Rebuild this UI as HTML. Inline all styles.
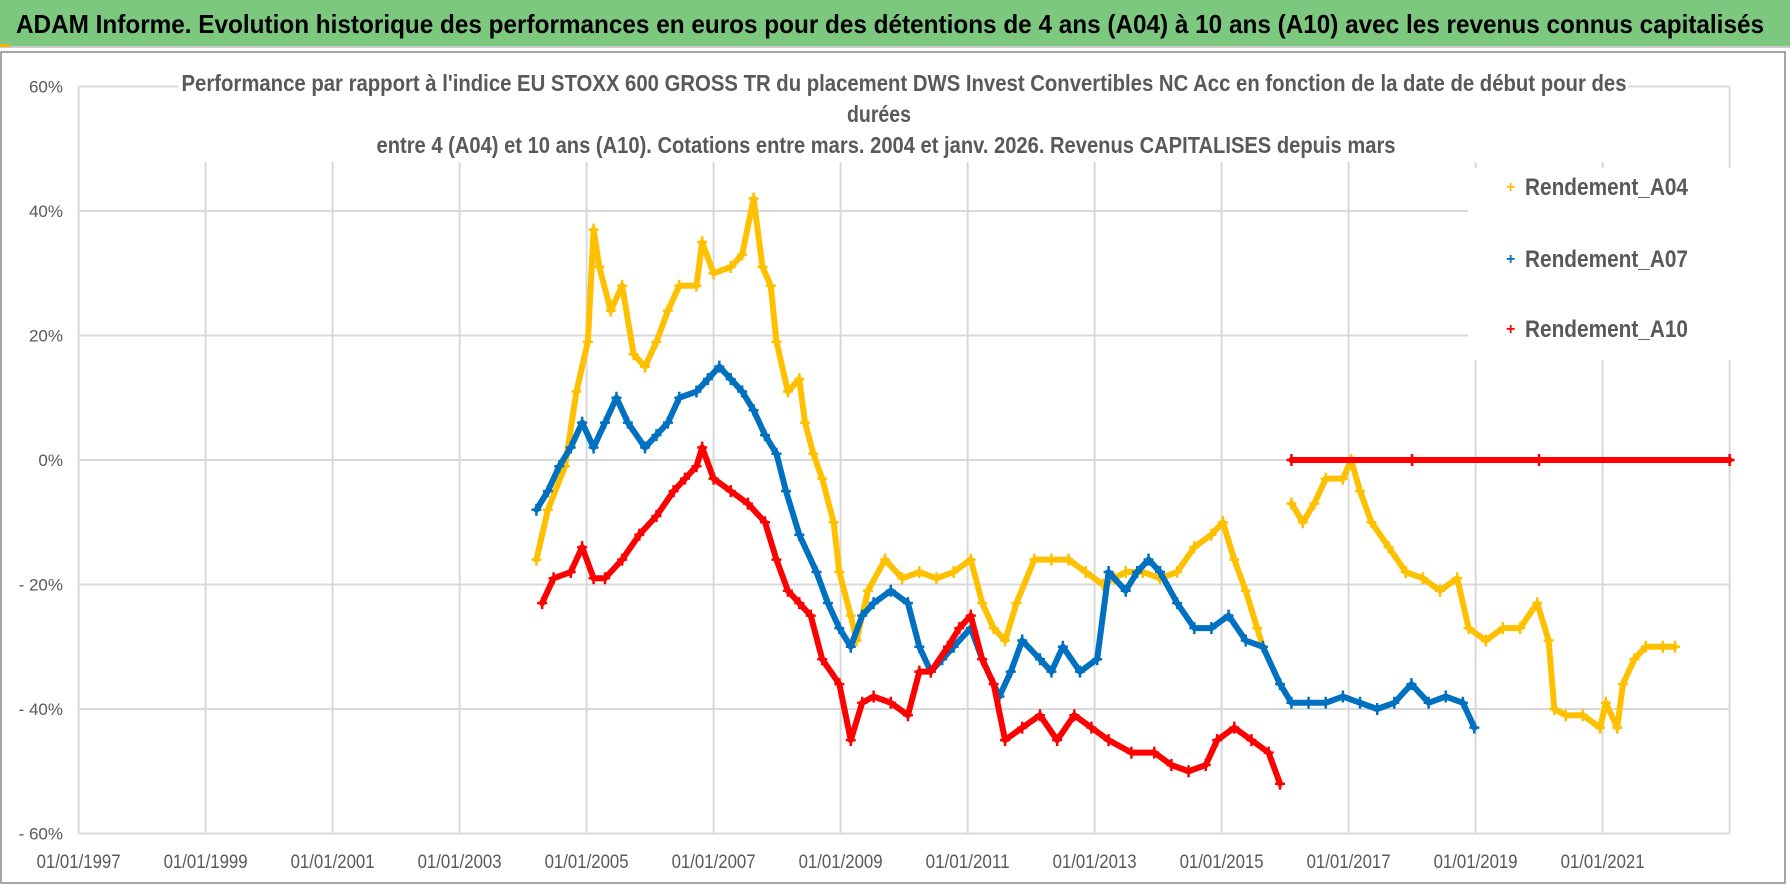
<!DOCTYPE html>
<html><head><meta charset="utf-8"><style>
html,body{margin:0;padding:0;background:#fff;}
svg{display:block;font-family:"Liberation Sans Narrow","Liberation Sans",sans-serif;}
</style></head><body>
<svg id="chart" width="1790" height="886" viewBox="0 0 1790 886" xmlns="http://www.w3.org/2000/svg">
<rect x="0" y="0" width="1790" height="886" fill="#fff"/>
<rect x="0" y="0" width="1790" height="46" fill="#7dc87f"/>
<line x1="0" y1="47" x2="1790" y2="47" stroke="#ccc" stroke-width="2"/>
<rect x="0" y="44" width="10" height="3" fill="#f0b400"/>
<text x="16" y="33" font-size="26" font-weight="bold" fill="#000" textLength="1748" lengthAdjust="spacingAndGlyphs">ADAM Informe. Evolution historique des performances en euros pour des détentions de 4 ans (A04) à 10 ans (A10) avec les revenus connus capitalisés</text>
<rect x="1" y="52" width="1784" height="831" fill="none" stroke="#888" stroke-width="1.5"/>
<g id="grid"></g>
<g id="series"></g>
<rect x="1468" y="168" width="272" height="192" fill="#fff"/>
<g font-size="23" font-weight="bold" fill="#595959" text-anchor="middle">
<rect x="178" y="70" width="1450" height="92" fill="#fff"/>
<text x="904" y="91" textLength="1445" lengthAdjust="spacingAndGlyphs">Performance par rapport à l'indice EU STOXX 600 GROSS TR  du placement DWS Invest Convertibles NC Acc en fonction de la date de début pour des</text>
<text x="879" y="122" textLength="64" lengthAdjust="spacingAndGlyphs">durées</text>
<text x="886" y="153" textLength="1019" lengthAdjust="spacingAndGlyphs">entre 4 (A04) et 10 ans (A10). Cotations entre mars. 2004 et janv. 2026. Revenus CAPITALISES depuis mars</text>
</g>
<g font-size="24" font-weight="bold" fill="#595959">
<g><text x="1506" y="192" fill="#ffc000" font-size="16">+</text><text x="1525" y="195" textLength="163" lengthAdjust="spacingAndGlyphs">Rendement_A04</text></g>
<g><text x="1506" y="264" fill="#0070c0" font-size="16">+</text><text x="1525" y="267" textLength="163" lengthAdjust="spacingAndGlyphs">Rendement_A07</text></g>
<g><text x="1506" y="334" fill="#ff0000" font-size="16">+</text><text x="1525" y="337" textLength="163" lengthAdjust="spacingAndGlyphs">Rendement_A10</text></g>
</g>
</svg>
<script>
const yTicks=[60,40,20,0,-20,-40,-60];
const yTickLabels=["60%","40%","20%","0%","- 20%","- 40%","- 60%"];
const xTicks=[1997,1999,2001,2003,2005,2007,2009,2011,2013,2015,2017,2019,2021,2023];
const xTickLabels=["01/01/1997","01/01/1999","01/01/2001","01/01/2003","01/01/2005","01/01/2007","01/01/2009","01/01/2011","01/01/2013","01/01/2015","01/01/2017","01/01/2019","01/01/2021",""];
const a04Dates=[2004.21,2004.39,2004.66,2004.84,2005.02,2005.11,2005.20,2005.38,2005.56,2005.74,2005.92,2006.10,2006.28,2006.46,2006.73,2006.82,2007.00,2007.27,2007.45,2007.63,2007.77,2007.90,2007.99,2008.17,2008.35,2008.44,2008.57,2008.71,2008.89,2008.98,2009.16,2009.25,2009.43,2009.70,2009.97,2010.24,2010.51,2010.78,2011.05,2011.23,2011.41,2011.59,2011.77,2012.05,2012.32,2012.59,2012.86,2013.13,2013.31,2013.49,2013.76,2014.03,2014.30,2014.57,2014.84,2015.02,2015.20,2015.38,2015.56,2015.65,
2016.10,2016.28,2016.46,2016.64,2016.91,2017.04,2017.18,2017.36,2017.63,2017.90,2018.17,2018.44,2018.71,2018.89,2019.16,2019.43,2019.70,2019.97,2020.15,2020.24,2020.42,2020.69,2020.96,2021.05,2021.23,2021.32,2021.50,2021.68,2021.95,2022.14];
const a04Values=[-16,-8,-1,11,19,37,31,24,28,17,15,19,24,28,28,35,30,31,33,42,31,28,19,11,13,6,1,-3,-10,-18,-25,-29,-21,-16,-19,-18,-19,-18,-16,-23,-27,-29,-23,-16,-16,-16,-18,-20,-19,-18,-18,-19,-18,-14,-12,-10,-16,-21,-27,-30,
-7,-10,-7,-3,-3,0,-5,-10,-14,-18,-19,-21,-19,-27,-29,-27,-27,-23,-29,-40,-41,-41,-43,-39,-43,-36,-32,-30,-30,-30];
const a07Dates=[2004.21,2004.39,2004.57,2004.75,2004.93,2005.11,2005.29,2005.47,2005.65,2005.92,2006.10,2006.28,2006.46,2006.73,2006.91,2007.09,2007.27,2007.45,2007.63,2007.81,2007.99,2008.14,2008.35,2008.62,2008.80,2008.98,2009.16,2009.34,2009.52,2009.79,2010.06,2010.24,2010.42,2010.60,2010.78,2011.05,2011.23,2011.50,2011.68,2011.86,2012.14,2012.32,2012.50,2012.77,2013.04,2013.22,2013.49,2013.67,2013.85,2014.03,2014.30,2014.57,2014.84,2015.11,2015.38,2015.65,2015.92,2016.10,2016.37,2016.64,2016.91,2017.18,2017.45,2017.72,2017.99,2018.26,2018.53,2018.80,2018.98];
const a07Values=[-8,-5,-1,2,6,2,6,10,6,2,4,6,10,11,13,15,13,11,8,4,1,-5,-12,-18,-23,-27,-30,-25,-23,-21,-23,-30,-34,-32,-30,-27,-32,-38,-34,-29,-32,-34,-30,-34,-32,-18,-21,-18,-16,-18,-23,-27,-27,-25,-29,-30,-36,-39,-39,-39,-38,-39,-40,-39,-36,-39,-38,-39,-43];
const a10Dates=[2004.30,2004.48,2004.75,2004.93,2005.11,2005.29,2005.56,2005.83,2006.10,2006.37,2006.55,2006.73,2006.82,2007.00,2007.27,2007.54,2007.81,2007.99,2008.17,2008.35,2008.53,2008.71,2008.98,2009.16,2009.34,2009.52,2009.79,2010.06,2010.24,2010.42,2010.69,2010.87,2011.05,2011.23,2011.41,2011.59,2011.86,2012.14,2012.41,2012.68,2012.95,2013.22,2013.58,2013.94,2014.21,2014.48,2014.75,2014.93,2015.20,2015.47,2015.74,2015.92,
2016.10,2018.00,2020.00,2023.00];
const a10Values=[-23,-19,-18,-14,-19,-19,-16,-12,-9,-5,-3,-1,2,-3,-5,-7,-10,-16,-21,-23,-25,-32,-36,-45,-39,-38,-39,-41,-34,-34,-30,-27,-25,-32,-36,-45,-43,-41,-45,-41,-43,-45,-47,-47,-49,-50,-49,-45,-43,-45,-47,-52,
0,0,0,0];
const NS="http://www.w3.org/2000/svg";
const X0=78.6, PX_PER_YEAR=63.5, Y0=460, PX_PER_PCT=6.225;
function xs(y){return X0+(y-1997)*PX_PER_YEAR;}
function ys(p){return Y0-p*PX_PER_PCT;}
const grid=document.getElementById('grid');
const seriesG=document.getElementById('series');
function mk(tag,attrs,parent){const e=document.createElementNS(NS,tag);for(const k in attrs)e.setAttribute(k,attrs[k]);parent.appendChild(e);return e;}
const xL=xs(1997), xR=xs(2023);
yTicks.forEach((t,i)=>{
  const l=mk('line',{x1:xL,x2:xR,y1:ys(t),y2:ys(t),stroke:'#d9d9d9','stroke-width':2},grid);
  
  
  const tx=mk('text',{x:63,y:ys(t)+6,'text-anchor':'end','font-size':17,fill:'#595959'},grid);
  tx.textContent=yTickLabels[i];
  
  
});
xTicks.forEach((t,i)=>{
  const l=mk('line',{x1:xs(t),x2:xs(t),y1:ys(60),y2:ys(-60),stroke:'#d9d9d9','stroke-width':2},grid);
  
  
  if(xTickLabels[i]){
    const tx=mk('text',{x:xs(t),y:868,'text-anchor':'middle','font-size':19,fill:'#595959',textLength:84,lengthAdjust:'spacingAndGlyphs'},grid);
    tx.textContent=xTickLabels[i];
    
    
  }
});
function drawSeries(dates,vals,color,name){
  const g=mk('g',{},seriesG);
  
  
  let segs=[[]];
  dates.forEach((d,i)=>{
    if(i>0){
      const dv=Math.abs(vals[i]-vals[i-1]), dt=d-dates[i-1];
      if((dt>0.4 && dv>0) || dv>20){segs.push([]);}
    }
    segs[segs.length-1].push([xs(d),ys(vals[i])]);
  });
  segs.forEach(s=>{
    if(s.length>1){
      const p=mk('polyline',{points:s.map(q=>q.join(',')).join(' '),fill:'none',stroke:color,'stroke-width':6,'stroke-linejoin':'round','stroke-linecap':'round'},g);
      
      
    }
  });
  dates.forEach((d,i)=>{
    const x=xs(d), y=ys(vals[i]);
    const m=mk('path',{d:`M${x-5},${y}H${x+5}M${x},${y-6}V${y+6}`,stroke:color,'stroke-width':2.5},g);
    
    
  });
}
drawSeries(a04Dates,a04Values,'#ffc000','series-a04');
drawSeries(a07Dates,a07Values,'#0070c0','series-a07');
drawSeries(a10Dates,a10Values,'#ff0000','series-a10');
</script>
</body></html>
